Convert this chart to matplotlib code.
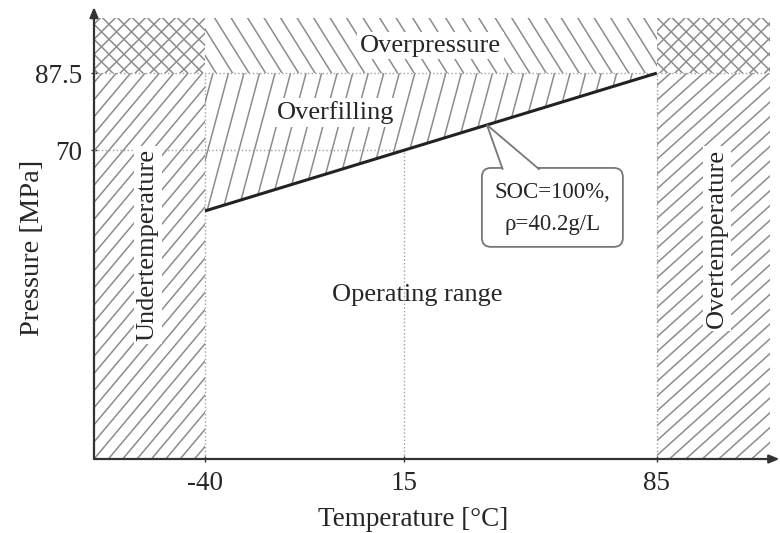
import numpy as np
import matplotlib.pyplot as plt
from matplotlib.patches import Polygon, FancyBboxPatch
from matplotlib.collections import LineCollection

plt.rcParams['font.family'] = ['Liberation Serif', 'DejaVu Serif']

# chart values
t_min, t_max = -40, 85          # allowed temperature range [C]
p_max = 87.5                    # max pressure [MPa]
soc_T = [-40, 85]               # SOC = 100 % line
soc_P = [56.25, 87.5]
x_ticks = [-40, 15, 85]
y_ticks = [70, 87.5]
y_tick_labels = ['70', '87.5']
ref_T, ref_P = 15, 70

xlim = (-70.7, 116.3)
ylim = (0, 100)

W, H = 780, 533
ax_l, ax_b, ax_w, ax_h = 94, 74, 676, 441
sx = ax_w / (xlim[1] - xlim[0])   # px per degree
sy = ax_h / (ylim[1] - ylim[0])   # px per MPa

fig = plt.figure(figsize=(W/100, H/100), dpi=100)
ax = fig.add_axes([ax_l/W, ax_b/H, ax_w/W, ax_h/H])
ax.set_xlim(xlim)
ax.set_ylim(ylim)

hcol = '#8c8c8c'
tcol = '#262626'

# hatch a polygon with straight lines, angle/spacing given in pixels
def hatch(verts, angle, spacing, lw=1.1):
	verts = np.asarray(verts, float)
	poly = Polygon(verts, closed=True, fill=False, lw=0)
	ax.add_patch(poly)
	a = np.radians(angle)
	d = np.array([np.cos(a), np.sin(a)])
	n = np.array([-np.sin(a), np.cos(a)])
	px = (verts - [xlim[0], ylim[0]]) * [sx, sy]
	proj = px @ n
	L = 2000
	segs = []
	for c in np.arange(np.floor(proj.min()/spacing)*spacing, proj.max() + spacing, spacing):
		b = c * n
		p0 = (b - L*d) / [sx, sy] + [xlim[0], ylim[0]]
		p1 = (b + L*d) / [sx, sy] + [xlim[0], ylim[0]]
		segs.append([p0, p1])
	lc = LineCollection(segs, colors=hcol, linewidths=lw, zorder=1)
	lc.set_clip_path(poly)
	ax.add_collection(lc)

x0, x1 = xlim
y1 = ylim[1]
# overpressure
hatch([(x0, p_max), (t_min, p_max), (t_min, y1), (x0, y1)], 45, 10.6)
hatch([(x0, p_max), (t_min, p_max), (t_min, y1), (x0, y1)], -45, 10.6)
hatch([(t_max, p_max), (x1, p_max), (x1, y1), (t_max, y1)], 45, 10.6)
hatch([(t_max, p_max), (x1, p_max), (x1, y1), (t_max, y1)], -45, 10.6)
hatch([(t_min, p_max), (t_max, p_max), (t_max, y1), (t_min, y1)], -58, 14)
# under / over temperature
hatch([(x0, 0), (t_min, 0), (t_min, p_max), (x0, p_max)], 50, 11)
hatch([(t_max, 0), (x1, 0), (x1, p_max), (t_max, p_max)], 42, 11)
# overfilling
hatch([(soc_T[0], soc_P[0]), (soc_T[1], soc_P[1]), (soc_T[0], p_max)], 75, 15)

# dotted guides
dot = dict(color='#a0a0a0', ls=':', lw=1.0, zorder=2)
ax.plot(xlim, [p_max, p_max], **dot)
ax.plot([x0, ref_T], [ref_P, ref_P], **dot)
ax.plot([ref_T, ref_T], [0, ref_P], **dot)
ax.plot([t_min, t_min], [0, p_max], **dot)
ax.plot([t_max, t_max], [0, p_max], **dot)

# SOC line
ax.plot(soc_T, soc_P, color='#222222', lw=2.2, zorder=4, solid_capstyle='butt')

# region labels
fs = 19
wb = dict(facecolor='white', edgecolor='none', pad=2)
ax.text((t_min+t_max)/2, (p_max+y1)/2, 'Overpressure', ha='center', va='center', fontsize=fs, color=tcol, bbox=wb, zorder=5)
ax.text(-4, 78.5, 'Overfilling', ha='center', va='center', fontsize=fs, color=tcol, bbox=wb, zorder=5)
ax.text(18.6, 37.2, 'Operating range', ha='center', va='center', fontsize=fs, color=tcol, zorder=5)
ax.text(-55.8, 48.5, 'Undertemperature', ha='center', va='center', rotation=90, fontsize=fs, color=tcol, bbox=wb, zorder=5)
ax.text(101.6, 50.1, 'Overtemperature', ha='center', va='center', rotation=90, fontsize=fs, color=tcol, bbox=wb, zorder=5)

# callout
bx0, by0, bx1, by1 = 36.6, 48.1, 75.6, 66.0
box = FancyBboxPatch((bx0, by0), bx1-bx0, by1-by0,
	boxstyle='round,pad=0,rounding_size=2.5', mutation_aspect=sx/sy,
	facecolor='white', edgecolor='#777777', lw=1.3, zorder=6)
ax.add_patch(box)
apx = 38
apy = np.interp(apx, soc_T, soc_P)
ptr = Polygon([(42.4, by1 - 0.4), (apx, apy), (52.6, by1 - 0.4)], closed=False,
	facecolor='white', edgecolor='#777777', lw=1.3, zorder=7)
ax.add_patch(ptr)
ax.text((bx0+bx1)/2, (by0+by1)/2 - 0.3, 'SOC=100%,\nρ=40.2g/L', ha='center', va='center',
	fontsize=16.5, linespacing=1.7, color=tcol, zorder=8)

# axes with arrows
for s in ax.spines.values():
	s.set_visible(False)
arr = dict(arrowstyle='-|>,head_length=0.6,head_width=0.25', color='#333333', lw=1.6, shrinkA=0, shrinkB=0)
ax.annotate('', xy=(0, 1.025), xytext=(0, 0), xycoords='axes fraction', arrowprops=arr, annotation_clip=False, zorder=9)
ax.annotate('', xy=(1.014, 0), xytext=(0, 0), xycoords='axes fraction', arrowprops=arr, annotation_clip=False, zorder=9)

ax.set_xticks(x_ticks)
ax.set_xticklabels([str(v) for v in x_ticks])
ax.set_yticks(y_ticks)
ax.set_yticklabels(y_tick_labels)
ax.tick_params(direction='inout', length=5, width=1, colors='#333333', labelcolor=tcol, labelsize=19.5, pad=6)

ax.set_xlabel('Temperature [°C]', fontsize=19.5, color=tcol)
ax.set_ylabel('Pressure [MPa]', fontsize=20.5, color=tcol)
ax.xaxis.set_label_coords((413 - ax_l)/ax_w, -(519 - (H - ax_b))/ax_h, transform=ax.transAxes)
ax.yaxis.set_label_coords((33 - ax_l)/ax_w, (H - ax_b - 248)/ax_h, transform=ax.transAxes)
ax.xaxis.label.set_va('center')
ax.yaxis.label.set_va('center')

plt.savefig('out.png', dpi=100)
